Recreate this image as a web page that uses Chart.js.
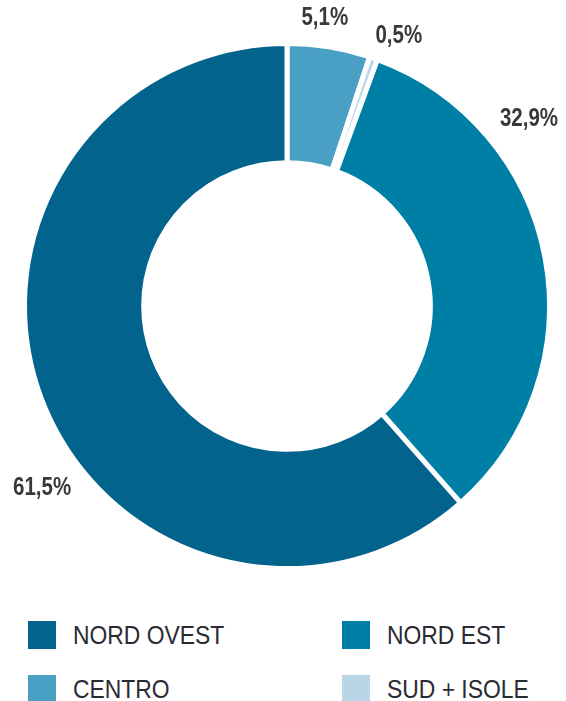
<!DOCTYPE html>
<html>
<head>
<meta charset="utf-8">
<script src="https://cdn.jsdelivr.net/npm/chart.js@4.4.1/dist/chart.umd.min.js"></script>
<style>
  body { margin: 0; background: #fff; width: 566px; height: 701px; position: relative; overflow: hidden;
         font-family: 'Liberation Sans', Arial, sans-serif; }
  #pie { position: absolute; left: 0; top: 0; }
  .item { position: absolute; height: 28px; display: flex; align-items: center; color: #2a2a33;
          font-size: 25px; white-space: nowrap; }
  .item span.sw { display: inline-block; width: 28px; height: 28px; margin-right: 17px; }
  .item span.tx { display: inline-block; transform: scaleX(0.915); transform-origin: left center; }
</style>
</head>
<body>
<canvas id="pie" width="566" height="600"></canvas>
<div id="legend"></div>
<script>
// quote per area, in senso orario dall'alto
const regions = ['CENTRO', 'SUD + ISOLE', 'NORD EST', 'NORD OVEST'];
const shares = [5.1, 0.5, 32.9, 61.5];
const colors = ['#4a9fc5', '#b8d6e8', '#007fa6', '#02638d'];

// ordine della legenda (indici in regions)
const legendOrder = [3, 2, 0, 1];

// spostamento etichette: gradi rispetto al centro della fetta, distanza oltre il bordo
const labelShift = [-1.7, 3.2, -27, -16];
const labelGap = [28, 30, 43, 43];

const fmt = v => v.toFixed(1).replace('.', ',') + '%';

const outLabels = {
  id: 'outLabels',
  afterDatasetsDraw(chart) {
    const ctx = chart.ctx;
    const meta = chart.getDatasetMeta(0);
    meta.data.forEach((arc, i) => {
      const p = arc.getProps(['x', 'y', 'startAngle', 'endAngle', 'outerRadius'], true);
      const a = (p.startAngle + p.endAngle) / 2 + labelShift[i] * Math.PI / 180;
      const r = p.outerRadius + labelGap[i];
      ctx.save();
      ctx.translate(p.x + Math.cos(a) * r, p.y + Math.sin(a) * r);
      ctx.scale(0.82, 1);   // carattere stretto
      ctx.font = "bold 25px 'Liberation Sans', Arial, sans-serif";
      ctx.fillStyle = '#383838';
      ctx.textAlign = 'center';
      ctx.textBaseline = 'middle';
      ctx.fillText(fmt(shares[i]), 0, 0);
      ctx.restore();
    });
  }
};

new Chart(document.getElementById('pie'), {
  type: 'doughnut',
  data: {
    labels: regions,
    datasets: [{
      data: shares,
      backgroundColor: colors,
      borderColor: '#ffffff',
      borderWidth: 5,
      hoverOffset: 0
    }]
  },
  plugins: [outLabels],
  options: {
    responsive: false,
    animation: false,
    cutout: '54.6%',
    layout: { padding: { left: 22, right: 14, top: 41, bottom: 29 } },
    plugins: {
      legend: { display: false },
      tooltip: { enabled: false }
    }
  }
});

// legenda a due colonne
const cellPos = [[28, 621], [342, 621], [28, 675], [342, 675]];
const legend = document.getElementById('legend');
legendOrder.forEach((idx, k) => {
  const d = document.createElement('div');
  d.className = 'item';
  d.style.left = cellPos[k][0] + 'px';
  d.style.top = cellPos[k][1] + 'px';
  d.innerHTML = '<span class="sw" style="background:' + colors[idx] + '"></span><span class="tx">' + regions[idx] + '</span>';
  legend.appendChild(d);
});
</script>
</body>
</html>
